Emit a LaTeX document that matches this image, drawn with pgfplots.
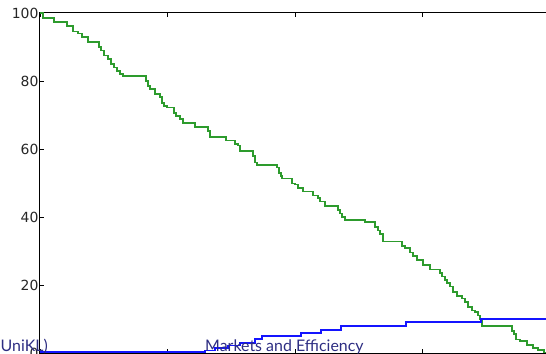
\documentclass[border=0pt]{standalone}
\usepackage{pgfplots}
\pgfplotsset{compat=1.18}
\usepackage{fontspec}
\setmainfont{DejaVu Sans}
\newfontfamily\footfont{Lato}
\definecolor{mgreen}{RGB}{45,155,45}
\definecolor{mblue}{RGB}{20,20,255}
\definecolor{footblue}{RGB}{45,45,130}
\begin{document}
\begin{tikzpicture}[x=1bp,y=1bp]
\begin{axis}[
  at={(40bp,1bp)}, anchor=south west,
  scale only axis, width=510bp, height=340bp,
  xmin=0, xmax=200, ymin=0, ymax=100,
  xtick={0,50,100,150,200}, xticklabels={},
  ytick={0,20,40,60,80,100},
  tick align=inside,
  major tick length=4bp,
  tick style={black, line width=0.6bp},
  axis line style={black, line width=1bp},
  /pgf/number format/assume math mode=true,
  ticklabel style={font=\fontsize{14}{16}\selectfont, text=black!85},
  yticklabel style={xshift=2bp},
  clip=false,
]
\addplot[const plot, mgreen, line width=1.6bp] coordinates {
(0,100) (1.18,98.5) (5.49,97.4) (10.59,96.2) (12.94,94.5) (14.90,94) (16.47,93)
(18.82,91.5) (23.14,90) (23.92,89) (25.10,87.5) (26.67,86.5) (27.84,85) (29.02,84)
(30.20,83) (31.37,82) (32.55,81.5) (41.57,80) (42.35,78.5) (43.14,77.6) (45.10,76.2)
(47.06,75.3) (47.84,73.5) (48.63,72.6) (49.80,72.2) (52.55,70.5) (53.33,69.7)
(54.90,68.8) (56.08,67.6) (60.78,66.5) (65.88,65.3) (66.67,63.5) (72.94,62.5)
(76.47,61.5) (77.65,61) (78.43,59.4) (83.53,58) (84.31,56) (85.10,55.3) (92.94,54.5)
(93.73,53) (94.51,52) (94.90,51.3) (98.82,49.8) (100.0,49.5) (101.18,48.5)
(103.14,47.5) (107.06,46.3) (109.02,45.5) (109.80,44.5) (111.76,43.3) (116.86,42)
(117.65,41) (118.43,40) (119.61,39.2) (127.45,38.5) (131.37,37) (132.55,36)
(133.33,35) (134.51,32.8) (141.96,31.5) (143.14,30.8) (145.10,29.5) (146.27,28.5)
(147.84,27.4) (150.20,25.9) (152.94,24.5) (156.86,23.5) (157.65,22.5) (158.82,21.5)
(159.61,20.5) (160.78,19.5) (161.96,18) (163.53,16.8) (165.49,16) (166.67,15)
(167.84,13.5) (169.41,12.5) (170.59,12) (171.76,11) (172.55,10) (173.33,8)
(185.10,6.5) (185.88,5.5) (186.67,4) (188.24,3.6) (190.98,2.4) (193.33,1.5)
(195.29,0.8) (197.65,0.2) (200,0.2)
};
\addplot[const plot, mblue, line width=1.5bp] coordinates {
(0,0.3) (64.71,0.8) (68.63,1.5) (73.73,2.2) (78.43,2.9) (84.31,4.1) (87.06,5.0)
(102.35,5.9) (110.20,6.8) (118.04,7.9) (143.53,9.1) (172.94,10) (200,10)
};
\end{axis}
\node[anchor=base east, inner sep=0, text=footblue, font=\footfont\fontsize{16}{18}\selectfont] at (48bp,3bp) {UniKL)};
\node[anchor=base west, inner sep=0, text=footblue, font=\footfont\fontsize{16}{18}\selectfont] at (205bp,3bp) {Markets and Efficiency};
\pgfresetboundingbox
\useasboundingbox (0,0) rectangle (546bp,354bp);
\end{tikzpicture}
\end{document}
